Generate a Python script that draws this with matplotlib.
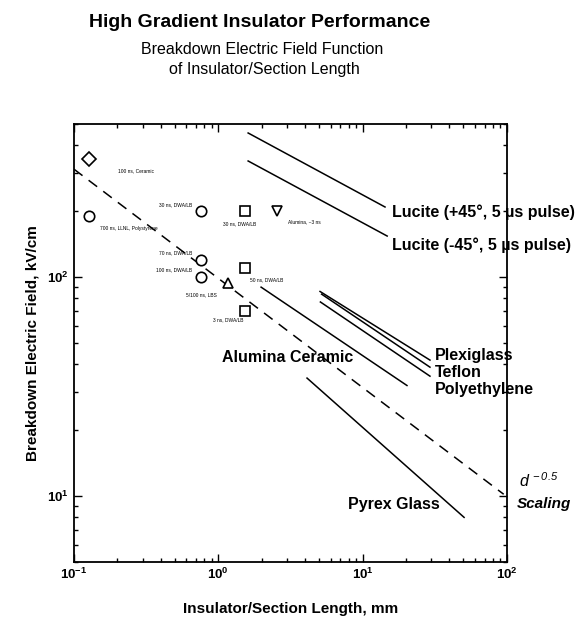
"""
High gradient insulator performance: breakdown field vs insulator length
"""
import matplotlib
matplotlib.use("Agg")
import matplotlib.pyplot as plt
from matplotlib.ticker import LogLocator, NullFormatter

plt.rcParams["font.family"] = ["Liberation Sans", "DejaVu Sans"]
plt.rcParams["mathtext.default"] = "regular"

# measured points (mm, kV/cm)
pt_x = [0.127, 0.127, 0.76, 0.76, 0.76, 1.53, 1.53, 1.53, 1.17, 2.55]
pt_y = [346, 190, 200, 120, 100, 200, 110, 70, 94, 200]
pt_marker = ["D", "o", "o", "o", "o", "s", "s", "s", "^", "v"]
pt_label = ["100 ns, Ceramic", "700 ns, LLNL, Polystyrene", "30 ns, DWA/LB",
            "70 ns, DWA/LB", "100 ns, DWA/LB", "30 ns, DWA/LB", "50 ns, DWA/LB",
            "3 ns, DWA/LB", "5/100 ns, LBS", "Alumina, ~3 ns"]
lab_x = [0.202, 0.151, 0.66, 0.66, 0.66, 1.41, 1.66, 1.17, 0.77, 3.98]
lab_y = [305, 167, 215, 129, 108, 176, 97, 63.6, 82.8, 178]
lab_ha = ["left", "left", "right", "right", "right", "center", "left",
          "center", "center", "center"]

# material curves, end points
scaling_x = [0.1, 95]
scaling_y = [311, 10.2]
lucite_p_x = [1.61, 14.3]
lucite_p_y = [455, 209]
lucite_m_x = [1.61, 14.8]
lucite_m_y = [339, 154]
alumina_x = [1.98, 20.3]
alumina_y = [90, 32]
pyrex_x = [4.12, 50.5]
pyrex_y = [34.6, 8.0]
plexi_x = [5.07, 29.3]
plexi_y = [86, 41.8]
teflon_x = [5.2, 29.3]
teflon_y = [83.6, 38.8]
poly_x = [5.1, 29.3]
poly_y = [77, 35.3]

fig = plt.figure(figsize=(5.78, 6.17), dpi=100)
ax = fig.add_axes([0.128, 0.089, 0.749, 0.710])
ax.set_xscale("log")
ax.set_yscale("log")
ax.set_xlim(0.1, 100)
ax.set_ylim(5, 500)

lw = 1.1
for xs, ys in [(lucite_p_x, lucite_p_y), (lucite_m_x, lucite_m_y),
               (alumina_x, alumina_y), (pyrex_x, pyrex_y),
               (plexi_x, plexi_y), (teflon_x, teflon_y), (poly_x, poly_y)]:
    ax.plot(xs, ys, color="black", lw=lw)
ax.plot(scaling_x, scaling_y, color="black", lw=lw, dashes=(7, 5))

for x, y, m in zip(pt_x, pt_y, pt_marker):
    ax.plot(x, y, marker=m, ms=7.5 if m != "D" else 7, mfc="white",
            mec="black", mew=1.2, ls="none")
for x, y, t, ha in zip(lab_x, lab_y, pt_label, lab_ha):
    ax.text(x, y, t, fontsize=3.5, ha=ha, va="center")

big = dict(fontsize=11.5, fontweight="bold", va="center")
ax.text(16.0, 198, "Lucite (+45°, 5 µs pulse)", ha="left", **big)
ax.text(16.0, 140, "Lucite (-45°, 5 µs pulse)", ha="left", **big)
ax.text(31.8, 44, "Plexiglass", ha="left", **big)
ax.text(31.8, 36.8, "Teflon", ha="left", **big)
ax.text(31.8, 30.8, "Polyethylene", ha="left", **big)
ax.text(3.04, 43, "Alumina Ceramic", ha="center", **big)
ax.text(34.4, 9.2, "Pyrex Glass", ha="right", **big)
ax.text(122, 11.8, "$d^{\\,-0.5}$", ha="left", fontsize=11.5,
        style="italic", va="center")
ax.text(117, 9.2, "Scaling", ha="left", fontsize=11, style="italic",
        fontweight="bold", va="center")

ax.xaxis.set_major_locator(LogLocator(base=10, numticks=10))
ax.yaxis.set_major_locator(LogLocator(base=10, numticks=10))
ax.xaxis.set_minor_locator(LogLocator(base=10, subs=range(2, 10), numticks=20))
ax.yaxis.set_minor_locator(LogLocator(base=10, subs=range(2, 10), numticks=20))
ax.yaxis.set_minor_formatter(NullFormatter())
ax.xaxis.set_minor_formatter(NullFormatter())
ax.tick_params(which="both", direction="in", top=True, right=True,
               width=1.0, labelsize=9.5)
ax.tick_params(which="major", length=6)
ax.tick_params(which="minor", length=3)
for lab in ax.get_xticklabels() + ax.get_yticklabels():
    lab.set_fontweight("bold")
for sp in ax.spines.values():
    sp.set_linewidth(1.3)

ax.set_xlabel("Insulator/Section Length, mm", fontsize=11,
              fontweight="bold", labelpad=14)
ax.set_ylabel("Breakdown Electric Field, kV/cm", fontsize=11,
              fontweight="bold", labelpad=6)

fig.text(0.45, 0.964, "High Gradient Insulator Performance",
         ha="center", va="center", fontsize=14, fontweight="bold")
fig.text(0.453, 0.919, "Breakdown Electric Field Function",
         ha="center", va="center", fontsize=11.5)
fig.text(0.457, 0.888, "of Insulator/Section Length",
         ha="center", va="center", fontsize=11.5)

fig.savefig("out.png", dpi=100, facecolor="white")
